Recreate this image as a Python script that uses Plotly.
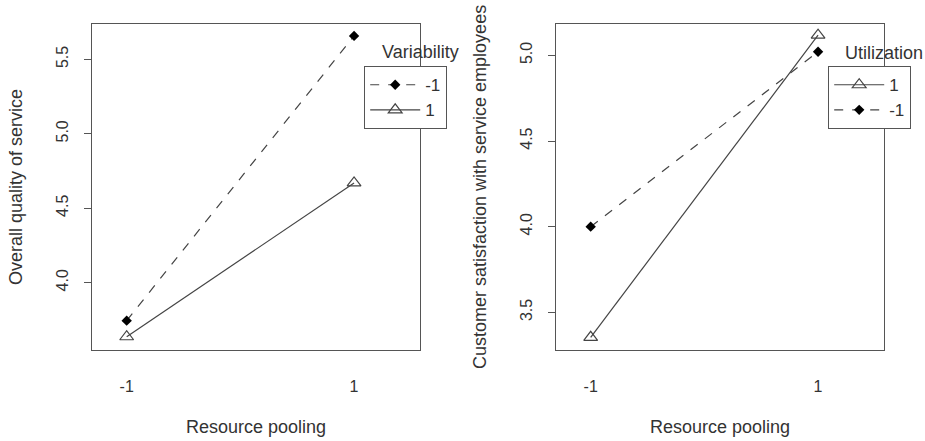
import plotly.graph_objects as go

# ---- data ----
x_levels = [-1, 1]
x_ticktext = ["-1", "1"]

# Left panel: Overall quality of service by Variability
var_labels = ["-1", "1"]
var_m1 = [3.745, 5.657]
var_p1 = [3.637, 4.670]

# Right panel: Customer satisfaction by Utilization
util_labels = ["1", "-1"]
util_p1 = [3.354, 5.118]
util_m1 = [4.000, 5.021]

W, H = 925, 441
FONT = "Liberation Sans, Arial, Helvetica, sans-serif"
TXT = "#333333"

fig = go.Figure()

dash_line = dict(color="#444444", width=1.2, dash="dash")
solid_line = dict(color="#444444", width=1.2)
diamond = dict(symbol="diamond", size=8, color="#000000")
tri = dict(symbol="triangle-up-open", size=12, color="#444444", line=dict(width=1.2))

# left
fig.add_trace(go.Scatter(x=x_levels, y=var_m1, mode="lines+markers", name=var_labels[0],
                         line=dash_line, marker=diamond, xaxis="x", yaxis="y", legend="legend"))
fig.add_trace(go.Scatter(x=x_levels, y=var_p1, mode="lines+markers", name=var_labels[1],
                         line=solid_line, marker=tri, xaxis="x", yaxis="y", legend="legend"))
# right
fig.add_trace(go.Scatter(x=x_levels, y=util_p1, mode="lines+markers", name=util_labels[0],
                         line=solid_line, marker=tri, xaxis="x2", yaxis="y2", legend="legend2"))
fig.add_trace(go.Scatter(x=x_levels, y=util_m1, mode="lines+markers", name=util_labels[1],
                         line=dash_line, marker=diamond, xaxis="x2", yaxis="y2", legend="legend2"))

ydom = [(H - 350) / H, (H - 24) / H]

def xax(domain):
    return dict(domain=domain, range=[-1.305, 1.58], tickvals=x_levels, ticktext=x_ticktext,
                showgrid=False, zeroline=False, showline=True, mirror=True, linecolor="#555555",
                linewidth=1.2, ticks="", ticklabelstandoff=22,
                tickfont=dict(family=FONT, size=16, color=TXT))

def yax(domain, rng, anchor):
    return dict(domain=domain, range=rng, tick0=0, dtick=0.5, tickformat=".1f",
                showgrid=False, zeroline=False, showline=True, mirror=True, linecolor="#555555",
                linewidth=1.2, ticks="outside", ticklen=7, tickcolor="#555555", tickwidth=1.2,
                tickangle=-90, ticklabelstandoff=10, anchor=anchor,
                tickfont=dict(family=FONT, size=16, color=TXT))

legend_common = dict(xanchor="left", yanchor="top", bordercolor="#555555", borderwidth=1.2,
                     bgcolor="white", font=dict(family=FONT, size=17, color=TXT),
                     tracegroupgap=0, itemwidth=50, entrywidth=90)

fig.update_layout(
    width=W, height=H,
    margin=dict(l=0, r=0, t=0, b=0),
    paper_bgcolor="white", plot_bgcolor="white",
    xaxis=dict(**xax([92 / W, 420 / W]), anchor="y"),
    yaxis=yax(ydom, [3.548, 5.737], "x"),
    xaxis2=dict(**xax([556 / W, 884 / W]), anchor="y2"),
    yaxis2=yax(ydom, [3.28, 5.183], "x2"),
    legend=dict(x=364 / W, y=(H - 66) / H, **legend_common),
    legend2=dict(x=828 / W, y=(H - 66) / H, **legend_common),
    showlegend=True,
)

def ann(text, x, y, angle=0, size=18, xanchor="center"):
    fig.add_annotation(text=text, x=x / W, y=1 - y / H, xref="paper", yref="paper",
                       showarrow=False, textangle=angle, xanchor=xanchor, yanchor="middle",
                       font=dict(family=FONT, size=size, color=TXT))

ann("Resource pooling", 256, 427)
ann("Resource pooling", 720, 427)
ann("Overall quality of service", 16, 187, angle=-90)
ann("Customer satisfaction with service employees", 480, 187, angle=-90)
ann("Variability", 380, 52, xanchor="left")
ann("Utilization", 843, 53, xanchor="left")

fig.write_html("out.html", config={"displayModeBar": False},
               post_script="document.body.style.margin='0';document.body.style.overflow='hidden';")
